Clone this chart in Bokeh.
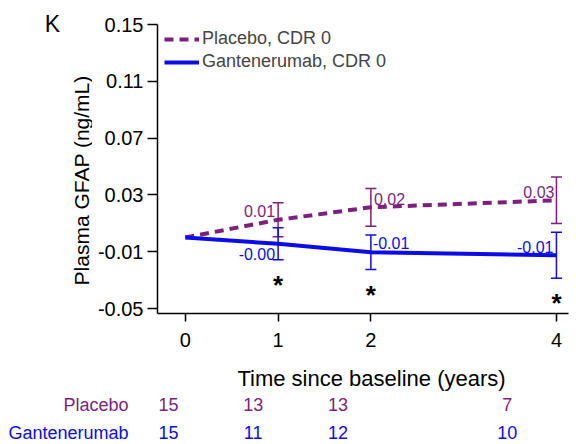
import math
from bokeh.plotting import figure
from bokeh.models import Range1d, FixedTicker, Whisker, TeeHead, ColumnDataSource, Legend, LegendItem
from bokeh.layouts import column, row
from bokeh.core.properties import value
from bokeh.embed import file_html
from bokeh.resources import INLINE

# ---------------- data ----------------
times = [0, 1, 2, 4]
placebo_mean = [0.0, 0.0125, 0.0213, 0.0262]
placebo_err = [0.0, 0.0120, 0.0133, 0.0164]
gant_mean = [0.0, -0.0044, -0.0104, -0.0125]
gant_err = [0.0, 0.0113, 0.0122, 0.0162]
sig_times = [1, 2, 4]
placebo_n = [15, 13, 13, 7]
gant_n = [15, 11, 12, 10]
y_ticks = [-0.05, -0.01, 0.03, 0.07, 0.11, 0.15]
y_tick_labels = ["-0.05", "-0.01", "0.03", "0.07", "0.11", "0.15"]
x_ticks = [0, 1, 2, 4]

PURPLE = "#7D1F7D"
BLUE = "#0C0CE6"
FONT = "Liberation Sans"

# ---------------- layout constants (page pixels) ----------------
PAGE_W = 576
PAGE_H = 444
SIDE_W = 92           # left strip with panel letter and y title
H_MAIN = 362
H_TAB = PAGE_H - H_MAIN
FRAME_BOTTOM = 313    # page y of the x axis
X_START, X_END = -0.30, 4.13
Y_START, Y_END = -0.0535, 0.1669
AXIS_TOP = 0.15

p = figure(width=PAGE_W - SIDE_W, height=H_MAIN, output_backend="svg", toolbar_location=None,
           x_range=Range1d(X_START, X_END), y_range=Range1d(Y_START, Y_END),
           min_border_left=157 - SIDE_W, min_border_right=8, min_border_top=0,
           min_border_bottom=H_MAIN - FRAME_BOTTOM)
p.outline_line_color = None
p.grid.visible = False
p.background_fill_color = "white"
p.border_fill_color = "white"

for ax in (p.xaxis[0], p.yaxis[0]):
    ax.axis_line_width = 1.5
    ax.axis_line_color = "black"
    ax.major_tick_line_width = 1.5
    ax.major_tick_line_color = "black"
    ax.major_tick_in = 0
    ax.minor_tick_line_color = None
    ax.major_label_text_font = FONT
    ax.major_label_text_font_size = "20px"
    ax.major_label_text_color = "black"

p.yaxis.ticker = FixedTicker(ticks=y_ticks)
p.yaxis.major_label_overrides = {t: l for t, l in zip(y_ticks, y_tick_labels)}
p.yaxis.major_tick_out = 10
p.yaxis.major_label_standoff = 4
p.yaxis.bounds = (Y_START, AXIS_TOP)

p.xaxis.ticker = FixedTicker(ticks=x_ticks)
p.xaxis.major_tick_out = 8
p.xaxis.major_label_standoff = 11

# lines
r_p = p.line(times, placebo_mean, line_color=PURPLE, line_width=4, line_dash="9 6")
r_g = p.line(times, gant_mean, line_color=BLUE, line_width=4)

# error bars (skip baseline)
def whisk(mean, err, color):
    src = ColumnDataSource(dict(x=times[1:],
                                upper=[m + e for m, e in zip(mean[1:], err[1:])],
                                lower=[m - e for m, e in zip(mean[1:], err[1:])]))
    p.add_layout(Whisker(source=src, base="x", upper="upper", lower="lower",
                         line_color=color, line_width=1.5,
                         upper_head=TeeHead(size=11, line_color=color, line_width=1.5),
                         lower_head=TeeHead(size=11, line_color=color, line_width=1.5)))

whisk(placebo_mean, placebo_err, PURPLE)
whisk(gant_mean, gant_err, BLUE)

# value labels
def vlabels(mean, idxs, align, xoff, yoff, color):
    p.text(x=[times[i] for i in idxs], y=[mean[i] for i in idxs],
           text=[f"{mean[i]:.2f}" for i in idxs], x_offset=xoff, y_offset=yoff,
           text_align=align, text_baseline="middle", text_color=color,
           text_font=value(FONT), text_font_size="16px")

vlabels(placebo_mean, [1, 3], "right", [-3, -2], [-9, -8], PURPLE)
vlabels(placebo_mean, [2], "left", [3], [-8], PURPLE)
vlabels(gant_mean, [1, 3], "right", [-3, -3], [10, -8], BLUE)
vlabels(gant_mean, [2], "left", [2], [-9], BLUE)

# significance asterisks below gantenerumab error bars
ast_y = [gant_mean[times.index(t)] - gant_err[times.index(t)] for t in sig_times]
p.text(x=sig_times, y=ast_y, text=["*"] * len(sig_times), y_offset=25,
       text_align="center", text_baseline="middle", text_color="black",
       text_font=value(FONT), text_font_size="26px", text_font_style="bold")

# legend
legend = Legend(items=[LegendItem(label="Placebo, CDR 0", renderers=[r_p]),
                       LegendItem(label="Gantenerumab, CDR 0", renderers=[r_g])],
                location=(7, FRAME_BOTTOM - 72), background_fill_alpha=0, border_line_color=None,
                label_text_font=FONT, label_text_font_size="18px",
                glyph_width=35, glyph_height=20, label_height=20, spacing=2,
                margin=0, padding=2, label_standoff=3)
p.add_layout(legend)

# ---------------- left strip: panel letter and y title ----------------
side = figure(width=SIDE_W, height=H_MAIN, output_backend="svg", toolbar_location=None,
              x_range=Range1d(0, SIDE_W), y_range=Range1d(H_MAIN - FRAME_BOTTOM, H_MAIN),
              min_border=0, min_border_left=0, min_border_right=0, min_border_top=0,
              min_border_bottom=H_MAIN - FRAME_BOTTOM)
side.outline_line_color = None
side.axis.visible = False
side.grid.visible = False
side.border_fill_color = "white"
side.text(x=[52], y=[H_MAIN - 23], text=["K"], text_align="center", text_baseline="middle",
          text_color="black", text_font=value(FONT), text_font_size="23px")
side.text(x=[81], y=[H_MAIN - 177], text=["Plasma GFAP  (ng/mL)"], angle=math.pi / 2,
          text_align="center", text_baseline="middle", text_color="black",
          text_font=value(FONT), text_font_size="21px")

# ---------------- x title and at-risk table ----------------
TX0, TDX = 168, 84.7   # page px of time 0 and per-year spacing in the table
tab = figure(width=PAGE_W, height=H_TAB, output_backend="svg", toolbar_location=None,
             x_range=Range1d(0, PAGE_W), y_range=Range1d(0, H_TAB),
             min_border=0, min_border_left=0, min_border_right=0, min_border_top=0,
             min_border_bottom=0)
tab.outline_line_color = None
tab.axis.visible = False
tab.grid.visible = False
tab.border_fill_color = "white"

tab.text(x=[371], y=[PAGE_H - 378], text=["Time since baseline (years)"], text_align="center",
         text_baseline="middle", text_color="black", text_font=value(FONT), text_font_size="22px")

ROW1, ROW2 = PAGE_H - 404, PAGE_H - 432
tx = [TX0 + TDX * t for t in times]
tab.text(x=[128], y=[ROW1], text=["Placebo"], text_align="right", text_baseline="middle",
         text_color=PURPLE, text_font=value(FONT), text_font_size="18px")
tab.text(x=[128], y=[ROW2], text=["Gantenerumab"], text_align="right", text_baseline="middle",
         text_color=BLUE, text_font=value(FONT), text_font_size="18px")
tab.text(x=tx, y=[ROW1] * len(times), text=[str(n) for n in placebo_n], text_align="center",
         text_baseline="middle", text_color=PURPLE, text_font=value(FONT), text_font_size="18px")
tab.text(x=tx, y=[ROW2] * len(times), text=[str(n) for n in gant_n], text_align="center",
         text_baseline="middle", text_color=BLUE, text_font=value(FONT), text_font_size="18px")

layout = column(row(side, p, spacing=0), tab, spacing=0)
open("out.html", "w").write(file_html(layout, INLINE))
